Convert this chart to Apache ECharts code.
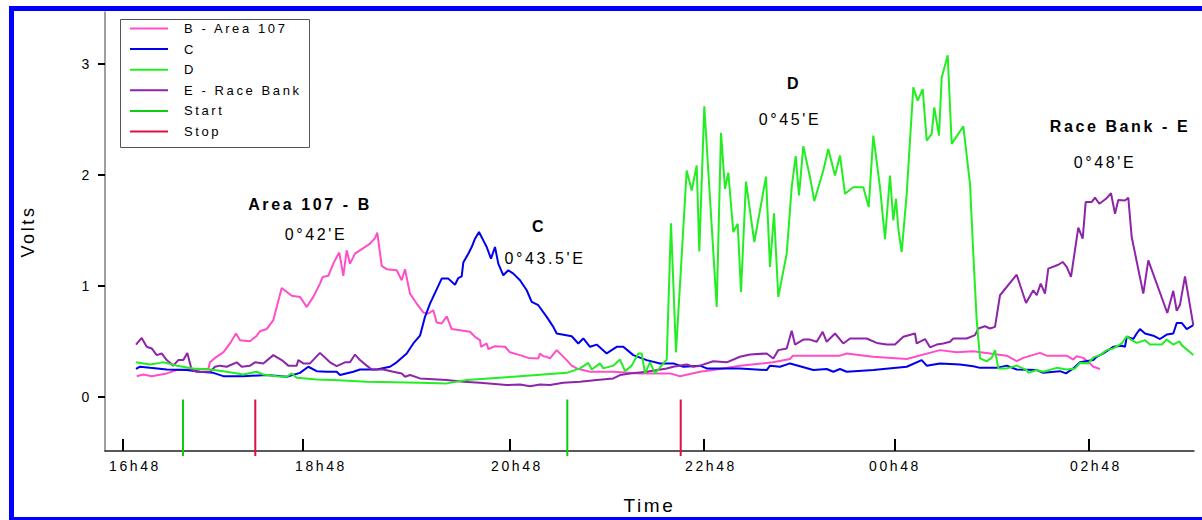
<!DOCTYPE html>
<html>
<head>
<meta charset="utf-8">
<script src="https://cdn.jsdelivr.net/npm/echarts@6/dist/echarts.min.js"></script>
<style>
html,body{margin:0;padding:0;background:#fff;}
#chart{width:1202px;height:520px;}
#chart svg text{letter-spacing:2.6px;}
</style>
</head>
<body>
<div id="chart"></div>
<script>
// x = record number (≈ one record per sample), y = Volts
const xTickValues = [3.6, 39.46, 80.86, 119.74, 158.0, 196.8];
const xTickLabels = ['16h48', '18h48', '20h48', '22h48', '00h48', '02h48'];
const xLabelValues = [6.0, 43.2, 82.4, 121.2, 158.0, 198.2];
const yTickValues = [0, 1, 2, 3];

const startRecords = [15.6, 92.46];
const stopRecords = [30.06, 115.14];

const seriesB = [[6.34,0.185],[7.66,0.20],[9.34,0.185],[12.34,0.21],[14.34,0.24],[16.34,0.245],[19.66,0.25],[20.66,0.25],[21.0,0.31],[22.0,0.35],[23.66,0.40],[25.0,0.48],[26.2,0.57],[27.0,0.51],[29.0,0.50],[30.34,0.55],[31.0,0.59],[32.34,0.61],[33.66,0.69],[34.34,0.81],[35.34,0.98],[37.34,0.91],[39.0,0.90],[40.34,0.81],[41.66,0.90],[43.0,1.02],[43.54,1.08],[44.66,1.09],[45.66,1.20],[46.34,1.26],[46.86,1.30],[47.66,1.09],[48.34,1.32],[49.0,1.20],[50.0,1.29],[51.66,1.34],[53.0,1.38],[54.0,1.43],[54.46,1.48],[55.34,1.18],[56.34,1.15],[58.34,1.14],[59.34,1.05],[60.0,1.15],[61.0,0.93],[62.34,0.84],[63.66,0.76],[64.66,0.75],[65.66,0.78],[66.34,0.67],[67.34,0.66],[68.34,0.725],[69.34,0.61],[71.0,0.60],[73.0,0.585],[74.0,0.54],[75.0,0.51],[75.2,0.45],[76.34,0.48],[76.66,0.43],[78.0,0.455],[80.0,0.45],[81.0,0.40],[83.0,0.375],[84.66,0.35],[86.66,0.345],[87.0,0.39],[87.66,0.365],[88.34,0.36],[89.0,0.345],[90.34,0.42],[91.34,0.375],[92.34,0.33],[93.34,0.28],[94.34,0.255],[97.0,0.225],[101.66,0.225],[107.0,0.21],[113.0,0.21],[115.0,0.185],[119.0,0.225],[123.0,0.25],[127.0,0.28],[133.6,0.31],[137.0,0.34],[137.6,0.37],[147.0,0.37],[148.34,0.39],[153.6,0.36],[160.34,0.34],[167.0,0.42],[170.34,0.40],[173.6,0.41],[177.0,0.39],[180.34,0.37],[182.34,0.32],[183.66,0.35],[187.0,0.395],[188.34,0.37],[192.34,0.37],[193.66,0.335],[194.34,0.365],[195.66,0.35],[197.0,0.30],[197.66,0.27],[199.0,0.25]];

const seriesC = [[6.2,0.25],[7.0,0.27],[9.0,0.26],[12.34,0.245],[16.34,0.24],[19.0,0.225],[21.66,0.215],[23.66,0.185],[27.66,0.185],[32.34,0.195],[36.34,0.18],[39.0,0.215],[40.66,0.27],[42.34,0.23],[44.34,0.225],[46.34,0.225],[47.0,0.195],[49.66,0.225],[51.0,0.245],[54.34,0.245],[57.0,0.27],[58.34,0.31],[60.34,0.39],[61.66,0.48],[63.0,0.55],[64.0,0.72],[65.0,0.84],[67.34,1.065],[68.66,1.065],[70.0,1.01],[70.66,1.07],[71.34,1.085],[71.66,1.21],[72.66,1.29],[73.34,1.35],[74.0,1.425],[74.8,1.485],[75.66,1.41],[76.34,1.35],[77.2,1.245],[78.0,1.35],[78.66,1.20],[79.66,1.095],[80.66,1.14],[81.66,1.11],[83.0,1.05],[84.34,0.96],[85.34,0.855],[86.66,0.825],[88.34,0.72],[89.66,0.63],[90.34,0.57],[93.34,0.545],[94.66,0.48],[95.66,0.525],[97.0,0.45],[98.34,0.47],[100.34,0.39],[102.34,0.45],[103.66,0.45],[105.66,0.375],[108.34,0.33],[111.0,0.30],[113.66,0.30],[115.66,0.27],[119.0,0.28],[120.34,0.255],[127.0,0.255],[132.34,0.24],[133.0,0.28],[135.0,0.27],[137.0,0.30],[139.0,0.275],[141.66,0.24],[144.34,0.25],[145.66,0.225],[147.0,0.25],[148.34,0.225],[153.66,0.24],[160.34,0.27],[163.34,0.33],[164.34,0.28],[167.0,0.30],[171.0,0.29],[173.66,0.275],[175.0,0.26],[178.34,0.26],[180.34,0.28],[182.34,0.245],[186.34,0.24],[187.66,0.215],[191.0,0.23],[192.2,0.21],[193.66,0.255],[195.0,0.31],[197.66,0.33],[198.34,0.36],[199.66,0.39],[201.66,0.45],[203.34,0.46],[204.0,0.45],[204.34,0.54],[205.66,0.52],[206.34,0.57],[207.0,0.61],[208.0,0.57],[209.66,0.55],[211.0,0.52],[212.34,0.56],[213.66,0.57],[214.34,0.665],[215.34,0.665],[216.34,0.61],[217.66,0.645]];

const seriesD = [[6.2,0.31],[9.0,0.29],[11.0,0.305],[11.66,0.31],[14.34,0.28],[17.66,0.255],[21.0,0.245],[24.34,0.225],[27.66,0.20],[30.34,0.225],[31.66,0.20],[34.34,0.185],[36.34,0.18],[37.34,0.21],[38.34,0.17],[42.34,0.155],[45.66,0.15],[52.34,0.135],[63.0,0.125],[68.34,0.12],[72.34,0.15],[81.66,0.18],[92.34,0.215],[95.0,0.255],[96.66,0.305],[97.34,0.245],[99.0,0.30],[99.66,0.255],[101.66,0.28],[103.0,0.335],[104.0,0.23],[105.34,0.28],[106.66,0.39],[107.34,0.39],[108.0,0.21],[109.0,0.31],[110.0,0.21],[112.34,0.335],[113.2,1.565],[114.2,0.40],[116.34,2.04],[117.34,1.86],[118.34,2.085],[118.86,1.31],[119.86,2.62],[122.34,0.81],[123.2,2.38],[124.0,1.875],[124.66,2.02],[125.66,1.485],[126.54,1.56],[127.2,0.945],[128.2,1.94],[129.86,1.395],[132.2,1.985],[133.0,1.17],[133.8,1.655],[134.66,0.90],[136.34,1.29],[137.34,1.89],[138.14,2.17],[138.8,1.815],[139.66,2.26],[141.0,1.98],[141.86,1.765],[143.66,2.04],[144.66,2.235],[146.0,1.995],[147.0,2.175],[148.0,1.83],[149.66,1.89],[151.66,1.89],[152.74,1.71],[153.66,2.355],[155.0,1.89],[156.0,1.42],[157.0,1.995],[157.66,1.59],[158.2,1.785],[158.66,1.515],[159.34,1.305],[160.34,1.83],[161.66,2.79],[162.54,2.67],[163.54,2.775],[164.34,2.31],[165.34,2.37],[165.86,2.61],[166.8,2.355],[167.34,2.88],[168.54,3.08],[169.34,2.28],[171.66,2.44],[173.0,1.92],[173.66,1.29],[174.34,0.69],[175.0,0.345],[176.34,0.32],[177.34,0.35],[178.0,0.42],[178.66,0.255],[180.34,0.255],[182.34,0.28],[184.34,0.24],[184.66,0.215],[186.34,0.24],[187.66,0.225],[190.34,0.26],[192.34,0.245],[194.0,0.255],[195.0,0.305],[196.66,0.30],[197.66,0.355],[199.0,0.375],[200.34,0.42],[201.66,0.435],[203.34,0.48],[204.34,0.545],[205.34,0.51],[206.34,0.485],[208.0,0.51],[209.0,0.47],[211.34,0.47],[212.34,0.515],[213.66,0.47],[214.86,0.50],[215.34,0.465],[217.66,0.375]];

const seriesE = [[6.2,0.47],[7.34,0.53],[8.34,0.45],[9.34,0.435],[10.34,0.375],[11.34,0.39],[12.34,0.33],[13.66,0.28],[14.66,0.33],[15.66,0.33],[16.46,0.395],[17.34,0.24],[18.34,0.225],[21.0,0.225],[22.0,0.27],[23.0,0.28],[24.34,0.27],[26.34,0.31],[27.34,0.27],[29.0,0.28],[30.0,0.31],[31.66,0.30],[33.66,0.375],[35.34,0.33],[36.66,0.28],[38.34,0.28],[38.66,0.33],[39.66,0.30],[41.0,0.30],[43.0,0.395],[45.0,0.31],[46.34,0.275],[48.0,0.31],[49.0,0.31],[50.0,0.38],[51.0,0.33],[52.34,0.28],[53.34,0.245],[55.66,0.245],[57.66,0.225],[59.34,0.21],[60.0,0.18],[61.0,0.195],[63.0,0.165],[68.34,0.15],[71.66,0.135],[75.0,0.125],[80.34,0.105],[83.0,0.11],[85.0,0.095],[87.0,0.11],[89.0,0.105],[91.66,0.125],[95.0,0.135],[98.34,0.15],[101.66,0.165],[103.0,0.195],[105.0,0.21],[108.34,0.225],[112.34,0.255],[113.66,0.27],[116.34,0.29],[117.66,0.27],[119.0,0.28],[121.66,0.32],[124.34,0.31],[127.0,0.36],[129.0,0.38],[132.34,0.39],[133.66,0.345],[134.66,0.42],[136.34,0.435],[137.34,0.595],[138.0,0.47],[139.66,0.515],[141.0,0.515],[142.34,0.495],[143.54,0.585],[144.34,0.495],[146.0,0.57],[147.66,0.48],[149.0,0.525],[152.34,0.525],[154.34,0.485],[156.34,0.47],[158.0,0.47],[159.66,0.54],[162.0,0.57],[162.34,0.48],[164.0,0.52],[165.0,0.445],[166.34,0.47],[167.66,0.48],[169.0,0.495],[169.66,0.525],[172.34,0.525],[174.0,0.555],[174.66,0.615],[176.0,0.635],[177.0,0.615],[178.0,0.63],[179.0,0.915],[182.34,1.10],[184.2,0.845],[185.66,0.96],[186.34,0.915],[187.14,1.02],[188.0,0.93],[188.66,1.155],[190.66,1.19],[191.54,1.215],[192.34,1.17],[193.2,1.08],[194.66,1.525],[195.54,1.425],[196.14,1.755],[197.34,1.755],[198.0,1.795],[198.86,1.74],[200.2,1.785],[201.2,1.835],[202.0,1.65],[202.66,1.775],[204.0,1.77],[204.66,1.795],[205.34,1.44],[207.66,0.93],[208.66,1.23],[212.46,0.755],[213.66,0.955],[214.34,0.775],[215.0,0.83],[216.0,1.085],[217.66,0.645]];

const FONT = 'Arial, "Liberation Sans", sans-serif';
const MARK_TOP = -0.025, MARK_BOTTOM = -0.535;

function markerData(xs) {
  const out = [];
  xs.forEach(x => { out.push([x, MARK_TOP], [x, MARK_BOTTOM], [x, '-']); });
  return out;
}

function lineSeries(name, data, color) {
  return {
    name, type: 'line', data, symbol: 'none', showSymbol: false,
    lineStyle: { color, width: 2 }, itemStyle: { color },
    emphasis: { disabled: true }, animation: false
  };
}

const chart = echarts.init(document.getElementById('chart'), null, { renderer: 'svg' });

const annotations = [
  { text: 'Area 107 - B', x: 310, y: 204, bold: true },
  { text: "0°42'E", x: 316, y: 234 },
  { text: 'C', x: 539, y: 226, bold: true },
  { text: "0°43.5'E", x: 545, y: 258 },
  { text: 'D', x: 794, y: 83, bold: true },
  { text: "0°45'E", x: 790, y: 119 },
  { text: 'Race Bank - E', x: 1120, y: 126, bold: true },
  { text: "0°48'E", x: 1105, y: 162 }
];

chart.setOption({
  animation: false,
  backgroundColor: '#ffffff',
  grid: { left: 105, right: 8, top: 12, bottom: 69, containLabel: false },
  xAxis: {
    type: 'value', min: 0, max: 217.8,
    name: 'Time', nameLocation: 'middle', nameGap: 45,
    nameTextStyle: { fontFamily: FONT, fontSize: 19, color: '#000' },
    axisLine: { show: true, onZero: false, lineStyle: { color: '#222', width: 1.5 } },
    axisTick: { show: true, inside: true, length: 12, customValues: xTickValues,
      lineStyle: { color: '#000', width: 2 } },
    axisLabel: { show: true, margin: 8, customValues: xLabelValues,
      fontFamily: FONT, fontSize: 14, color: '#000',
      formatter: v => { const i = xLabelValues.findIndex(t => Math.abs(t - v) < 0.01); return i >= 0 ? xTickLabels[i] : ''; } },
    splitLine: { show: false }
  },
  yAxis: {
    type: 'value', min: -0.49, max: 3.47,
    name: 'Volts', nameLocation: 'middle', nameGap: 68, nameRotate: 90,
    nameTextStyle: { fontFamily: FONT, fontSize: 18, color: '#000' },
    axisLine: { show: true, onZero: false, lineStyle: { color: '#808080', width: 1.5 } },
    axisTick: { show: true, inside: false, length: 7, customValues: yTickValues,
      lineStyle: { color: '#000', width: 2 } },
    axisLabel: { show: true, margin: 13, customValues: yTickValues,
      fontFamily: FONT, fontSize: 14, color: '#000' },
    splitLine: { show: false }
  },
  legend: {
    orient: 'vertical', left: 130, top: 22, padding: 0,
    itemWidth: 38, itemHeight: 14, itemGap: 7.6,
    icon: 'path://M0,0H38V2H0Z', symbolKeepAspect: true,
    textStyle: { fontFamily: FONT, fontSize: 13, color: '#000', padding: [0, 0, 0, 11] },
    data: ['B - Area 107', 'C', 'D', 'E - Race Bank', 'Start', 'Stop'],
    selectedMode: false
  },
  graphic: [
    { type: 'rect', z: 100, silent: true,
      shape: { x: 11.5, y: 8.5, width: 1210, height: 511 },
      style: { fill: 'none', stroke: '#0000ff', lineWidth: 5 } },
    { type: 'rect', z: 90, silent: true,
      shape: { x: 120.5, y: 19.5, width: 189, height: 128 },
      style: { fill: 'none', stroke: '#555555', lineWidth: 1 } }
  ].concat(annotations.map(a => ({
    type: 'text', z: 50, silent: true, x: a.x, y: a.y,
    style: { text: a.text, fill: '#000', font: (a.bold ? 'bold ' : '') + '16px ' + FONT,
      textAlign: 'center', textVerticalAlign: 'middle', align: 'center', verticalAlign: 'middle' }
  }))),
  series: [
    lineSeries('B - Area 107', seriesB, '#ff4fc8'),
    lineSeries('C', seriesC, '#0000ee'),
    lineSeries('E - Race Bank', seriesE, '#8e24aa'),
    lineSeries('D', seriesD, '#22ee22'),
    Object.assign(lineSeries('Start', markerData(startRecords), '#10cc10'), { clip: false, connectNulls: false }),
    Object.assign(lineSeries('Stop', markerData(stopRecords), '#dd1040'), { clip: false, connectNulls: false })
  ]
});
</script>
</body>
</html>
